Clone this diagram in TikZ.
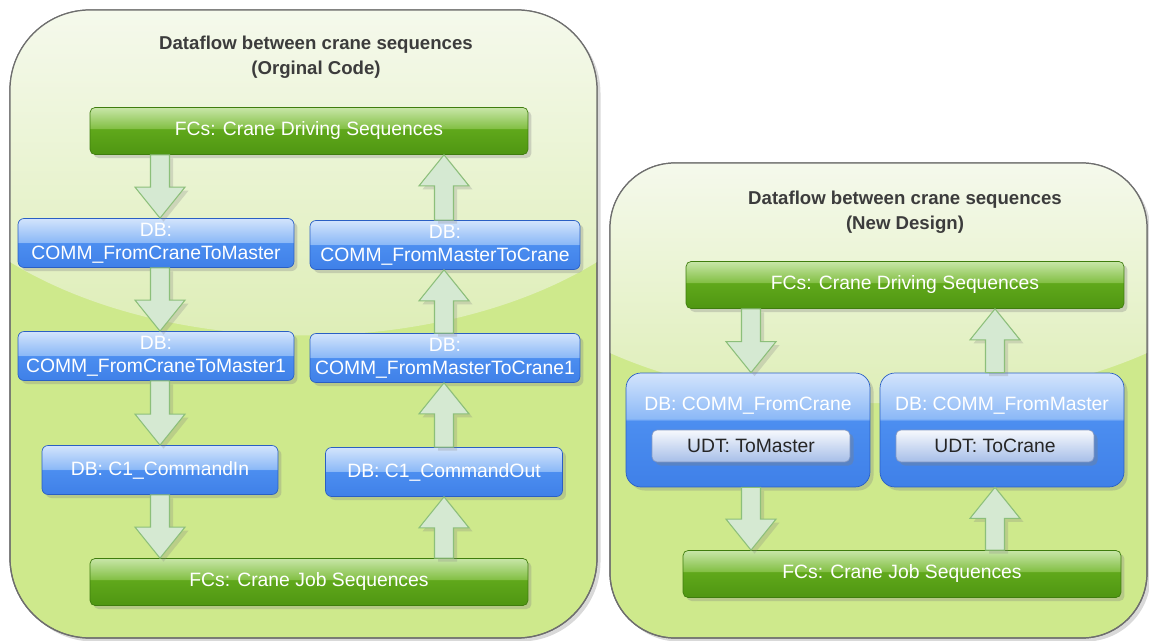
\documentclass[tikz,border=0pt]{standalone}
\usepackage{fontspec}
\setmainfont{Liberation Sans}
\usetikzlibrary{calc,shadows}

\definecolor{paneltop}{HTML}{F5F9EC}
\definecolor{panelmid}{HTML}{DCEDB3}
\definecolor{panellow}{HTML}{CEE98C}
\definecolor{panelline}{HTML}{6E6E6E}
\definecolor{titlegray}{HTML}{3C3C3C}
\definecolor{gdark}{HTML}{4F9612}
\definecolor{gbase}{HTML}{60A81B}
\definecolor{gmid}{HTML}{84C046}
\definecolor{glight}{HTML}{C8E6A8}
\definecolor{gline}{HTML}{3F7D0E}
\definecolor{bdark}{HTML}{3F80E8}
\definecolor{bbase}{HTML}{4C8EF0}
\definecolor{bmid}{HTML}{8CB9F7}
\definecolor{blight}{HTML}{D3E4FC}
\definecolor{bline}{HTML}{2A5FC4}
\definecolor{utop}{HTML}{F7F9FD}
\definecolor{ubot}{HTML}{A6BEE8}
\definecolor{uline}{HTML}{8298C4}
\definecolor{arrowfill}{HTML}{D5E9D2}
\definecolor{arrowline}{HTML}{8CBF7A}

\pgfdeclareverticalshading{greenbar}{100bp}{color(0bp)=(gdark); color(25bp)=(gdark); color(52bp)=(gbase); color(53bp)=(gmid); color(75bp)=(glight); color(100bp)=(glight)}
\pgfdeclareverticalshading{bluebar}{100bp}{color(0bp)=(bdark); color(25bp)=(bdark); color(50bp)=(bbase); color(51bp)=(bmid); color(75bp)=(blight); color(100bp)=(blight)}
\pgfdeclareverticalshading{bluebig}{100bp}{color(0bp)=(bdark); color(25bp)=(bdark); color(54bp)=(bbase); color(55bp)=(bmid); color(75bp)=(blight); color(100bp)=(blight)}
\pgfdeclareverticalshading{udtbar}{100bp}{color(0bp)=(ubot); color(25bp)=(ubot); color(75bp)=(utop); color(100bp)=(utop)}

% block arrow from #1 to #2
\newcommand{\flowarrow}[2]{%
  \coordinate (fa s) at (#1);
  \coordinate (fa e) at (#2);
  \coordinate (fa h) at ($(fa e)!0.62cm!(fa s)$);
  \path[flowarrow] ($(fa s)!0.19cm!90:(fa e)$) -- ($(fa h)!0.19cm!90:(fa e)$)
    -- ($(fa h)!0.5cm!90:(fa e)$) -- (fa e) -- ($(fa h)!0.5cm!-90:(fa e)$)
    -- ($(fa h)!0.19cm!-90:(fa e)$) -- ($(fa s)!0.19cm!-90:(fa e)$) -- cycle;}

\begin{document}
\begin{tikzpicture}[x=0.02cm,y=-0.02cm,
  boxfont/.style={font=\fontsize{11}{13}\selectfont},
  paneltitle/.style={text=titlegray, align=center, font=\bfseries\fontsize{10.6}{14.2}\selectfont},
  fcbox/.style={shade, shading=greenbar, draw=gline, rounded corners=0.1cm, text=white, boxfont,
    minimum width=8.76cm, minimum height=0.94cm,
    drop shadow={shadow xshift=2pt, shadow yshift=-2pt, opacity=0.3}},
  dbbox/.style={shade, shading=bluebar, draw=bline, rounded corners=0.12cm, text=white, boxfont,
    align=center, inner ysep=1pt, inner xsep=2pt, minimum height=0.98cm,
    drop shadow={shadow xshift=2pt, shadow yshift=-2pt, opacity=0.3}},
  dbbig/.style={shade, shading=bluebig, draw=bline, rounded corners=0.3cm,
    minimum width=4.88cm, minimum height=2.28cm,
    drop shadow={shadow xshift=2pt, shadow yshift=-2pt, opacity=0.3}},
  dblabel/.style={text=white, boxfont},
  udtbox/.style={shade, shading=udtbar, draw=uline, rounded corners=0.1cm, text=black!85, boxfont,
    minimum width=3.96cm, minimum height=0.64cm,
    drop shadow={shadow xshift=2pt, shadow yshift=-2pt, opacity=0.35}},
  flowarrow/.style={fill=arrowfill, draw=arrowline, line width=0.6pt,
    drop shadow={shadow xshift=2pt, shadow yshift=-2pt, opacity=0.25}}
]
\useasboundingbox (0,0) rectangle (1149,641);

% panels
\filldraw[fill=panellow, draw=panelline, line width=0.7pt, rounded corners=1.6cm,
  drop shadow={shadow xshift=2pt, shadow yshift=-2pt, opacity=0.3}] (10,10) rectangle (597,638);
\begin{scope}
  \clip[rounded corners=1.6cm] (10,10) rectangle (597,638);
  \shade[top color=paneltop, bottom color=panelmid] (10,10) -- (10,262)
    .. controls (170,360) and (437,360) .. (597,262) -- (597,10) -- cycle;
\end{scope}
\draw[panelline, line width=0.7pt, rounded corners=1.6cm] (10,10) rectangle (597,638);

\filldraw[fill=panellow, draw=panelline, line width=0.7pt, rounded corners=1.3cm,
  drop shadow={shadow xshift=2pt, shadow yshift=-2pt, opacity=0.3}] (610,163) rectangle (1147,638);
\begin{scope}
  \clip[rounded corners=1.3cm] (610,163) rectangle (1147,638);
  \shade[top color=paneltop, bottom color=panelmid] (610,163) -- (610,353)
    .. controls (760,420) and (997,420) .. (1147,353) -- (1147,163) -- cycle;
\end{scope}
\draw[panelline, line width=0.7pt, rounded corners=1.3cm] (610,163) rectangle (1147,638);

% original code
\node[paneltitle] (oldtitle) at (316,57) {Dataflow between crane sequences\\(Orginal Code)};
\node[fcbox] (olddrive) at (309,131) {FCs: Crane Driving Sequences};
\node[dbbox, minimum width=5.52cm] (ctm) at (156,243) {DB:\\COMM\_FromCraneToMaster};
\node[dbbox, minimum width=5.4cm] (mtc) at (445,245) {DB:\\COMM\_FromMasterToCrane};
\node[dbbox, minimum width=5.52cm] (ctm1) at (156,356) {DB:\\COMM\_FromCraneToMaster1};
\node[dbbox, minimum width=5.4cm] (mtc1) at (445,358) {DB:\\COMM\_FromMasterToCrane1};
\node[dbbox, minimum width=4.72cm] (cmdin) at (160,470) {DB: C1\_CommandIn};
\node[dbbox, minimum width=4.74cm] (cmdout) at (444,472) {DB: C1\_CommandOut};
\node[fcbox] (oldjob) at (309,582) {FCs: Crane Job Sequences};

\flowarrow{olddrive.south -| cmdin.north}{ctm.north -| cmdin.north}
\flowarrow{ctm.south -| cmdin.north}{ctm1.north -| cmdin.north}
\flowarrow{ctm1.south -| cmdin.north}{cmdin.north}
\flowarrow{cmdin.south}{oldjob.north -| cmdin.south}
\flowarrow{oldjob.north -| cmdout.south}{cmdout.south}
\flowarrow{cmdout.north}{mtc1.south -| cmdout.north}
\flowarrow{mtc1.north -| cmdout.north}{mtc.south -| cmdout.north}
\flowarrow{mtc.north -| cmdout.north}{olddrive.south -| cmdout.north}

% new design
\node[paneltitle] (newtitle) at (905,212) {Dataflow between crane sequences\\(New Design)};
\node[fcbox] (newdrive) at (905,285) {FCs: Crane Driving Sequences};
\node[dbbig] (fromcrane) at (748,430) {};
\node[dblabel] (fromcranelbl) at (748,406) {DB: COMM\_FromCrane};
\node[udtbox] (tomaster) at (751,446) {UDT: ToMaster};
\node[dbbig] (frommaster) at (1002,430) {};
\node[dblabel] (frommasterlbl) at (1002,406) {DB: COMM\_FromMaster};
\node[udtbox] (tocrane) at (995,446) {UDT: ToCrane};
\node[fcbox] (newjob) at (902,574) {FCs: Crane Job Sequences};

\flowarrow{newdrive.south -| tomaster.north}{fromcrane.north -| tomaster.north}
\flowarrow{fromcrane.south -| tomaster.south}{newjob.north -| tomaster.south}
\flowarrow{newjob.north -| tocrane.south}{frommaster.south -| tocrane.south}
\flowarrow{frommaster.north -| tocrane.north}{newdrive.south -| tocrane.north}
\end{tikzpicture}
\end{document}
